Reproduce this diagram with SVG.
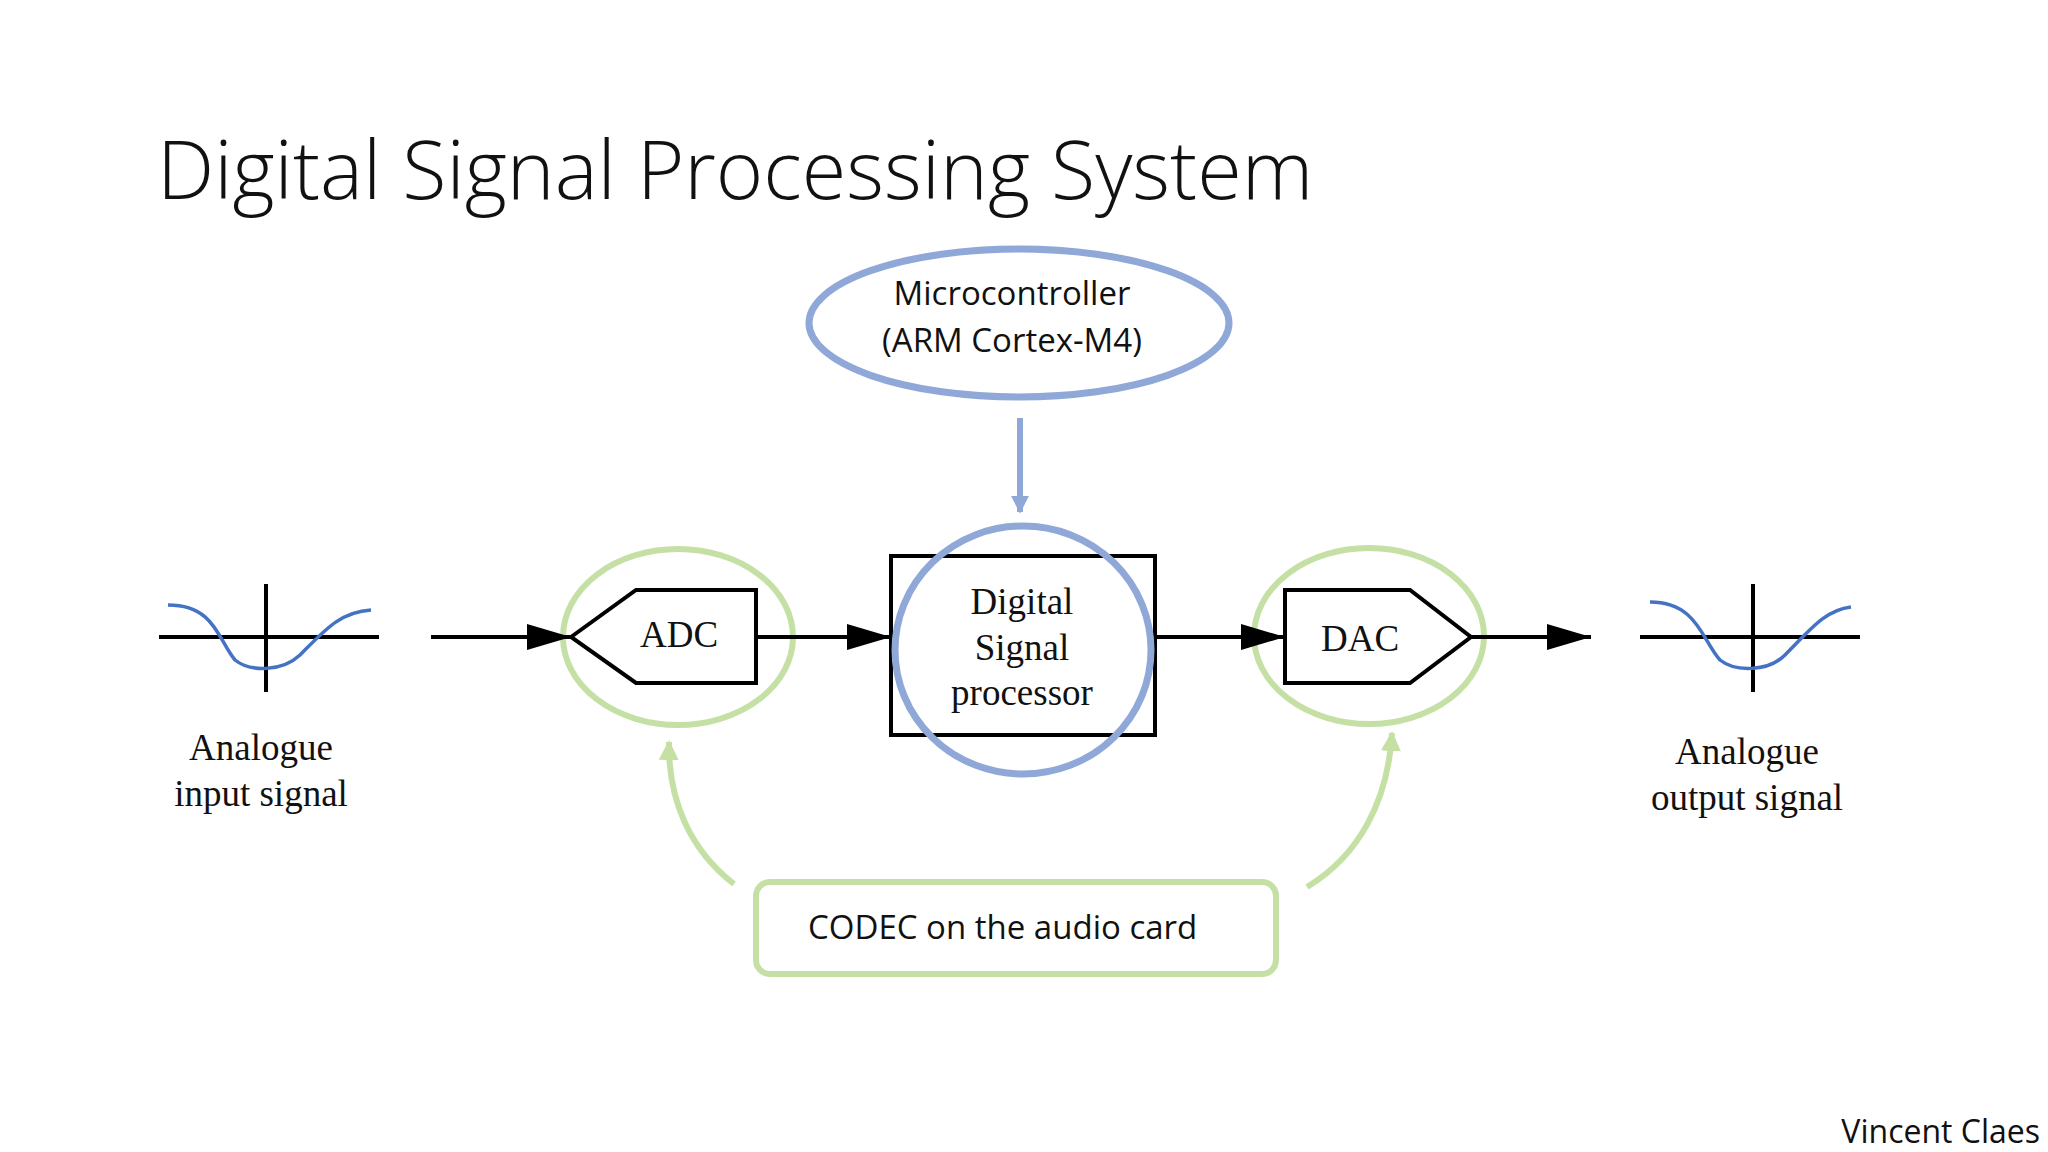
<svg xmlns="http://www.w3.org/2000/svg" width="2048" height="1152" viewBox="0 0 2048 1152">
<style>
.sans{font-family:"Open Sans","Liberation Sans",sans-serif;fill:#111}
.serif{font-family:"Liberation Serif",serif;fill:#111;font-size:37px;text-anchor:middle}
.blk{stroke:#000;stroke-width:4;fill:none}
.grn{stroke:#C5E0A5;stroke-width:6;fill:none}
.blu{stroke:#8FA8D8;stroke-width:7;fill:none}
.sig{stroke:#4472C4;stroke-width:3.5;fill:none}
</style>
<defs>
<marker id="ab" markerWidth="10" markerHeight="8" refX="9" refY="4" orient="auto" markerUnits="userSpaceOnUse" viewBox="0 0 10 8"><path d="M0,0L10,4L0,8z" fill="#000"/></marker>
<marker id="ablue" viewBox="0 0 10 10" refX="9" refY="5" markerWidth="18" markerHeight="18" orient="auto" markerUnits="userSpaceOnUse"><path d="M0,0L10,5L0,10z" fill="#8FA8D8"/></marker>
<marker id="agrn" viewBox="0 0 10 10" refX="9" refY="5" markerWidth="20" markerHeight="20" orient="auto" markerUnits="userSpaceOnUse"><path d="M0,0L10,5L0,10z" fill="#C5E0A5"/></marker>
<marker id="ablk" viewBox="0 0 10 10" refX="10" refY="5" markerWidth="44" markerHeight="26" orient="auto" markerUnits="userSpaceOnUse" preserveAspectRatio="none"><path d="M0,0L10,5L0,10z" fill="#000"/></marker>
</defs>
<rect width="2048" height="1152" fill="#fff"/>
<text class="sans" x="157" y="199" font-size="81" font-weight="300">Digital Signal Processing System</text>

<g id="input">
<line class="blk" x1="159" y1="637" x2="379" y2="637" stroke-width="3"/>
<line class="blk" x1="266" y1="584" x2="266" y2="692" stroke-width="3"/>
<path class="sig" d="M168,605 C215,605 218,640 235,660 C250,672 282,672 300,655 C325,630 340,612 371,610"/>
<text class="serif" x="261" y="760">Analogue</text>
<text class="serif" x="261" y="806">input signal</text>
</g>
<g id="output">
<line class="blk" x1="1640" y1="637" x2="1860" y2="637" stroke-width="3"/>
<line class="blk" x1="1753" y1="584" x2="1753" y2="692" stroke-width="3"/>
<path class="sig" d="M1650,602 C1697,602 1702,640 1720,660 C1735,672 1768,672 1785,655 C1810,630 1825,610 1851,607"/>
<text class="serif" x="1747" y="764">Analogue</text>
<text class="serif" x="1747" y="810">output signal</text>
</g>
<g id="mcu">
<ellipse class="blu" cx="1019" cy="323" rx="210" ry="74"/>
<text class="sans" x="1012" y="305" font-size="33" text-anchor="middle">Microcontroller</text>
<text class="sans" x="1012" y="352" font-size="33" text-anchor="middle">(ARM Cortex-M4)</text>
</g>
<g id="dsp">
<rect class="blk" x="891" y="556" width="264" height="179"/>
<ellipse class="blu" cx="1023" cy="650" rx="128" ry="124"/>
<text class="serif" x="1022" y="614">Digital</text>
<text class="serif" x="1022" y="660">Signal</text>
<text class="serif" x="1022" y="705">processor</text>
</g>
<g id="adc">
<polygon class="blk" points="571,637 636,590 756,590 756,683 636,683"/>
<text class="serif" x="679" y="647" font-size="36">ADC</text>
<ellipse class="grn" cx="678" cy="637" rx="115" ry="88"/>
</g>
<g id="dac">
<polygon class="blk" points="1285,590 1410,590 1471,637 1410,683 1285,683"/>
<text class="serif" x="1360" y="651" font-size="36">DAC</text>
<ellipse class="grn" cx="1369" cy="636" rx="115" ry="88"/>
</g>
<g id="codec">
<rect class="grn" x="756" y="882" width="520" height="92" rx="14"/>
<text class="sans" x="808" y="939" font-size="33">CODEC on the audio card</text>
</g>
<g id="connectors">
<line x1="1020" y1="418" x2="1020" y2="512" stroke="#8FA8D8" stroke-width="6" marker-end="url(#ablue)"/>
<line class="blk" x1="431" y1="637" x2="571" y2="637" marker-end="url(#ablk)"/>
<line class="blk" x1="756" y1="637" x2="891" y2="637" marker-end="url(#ablk)"/>
<line class="blk" x1="1155" y1="637" x2="1285" y2="637" marker-end="url(#ablk)"/>
<line class="blk" x1="1471" y1="637" x2="1591" y2="637" marker-end="url(#ablk)"/>
<path class="grn" d="M734,884 C690,850 668,800 669,742" marker-end="url(#agrn)"/>
<path class="grn" d="M1307,887 C1360,855 1388,800 1392,733" marker-end="url(#agrn)"/>
</g>
<text class="sans" x="2040" y="1143" font-size="32" text-anchor="end">Vincent Claes</text>
</svg>
